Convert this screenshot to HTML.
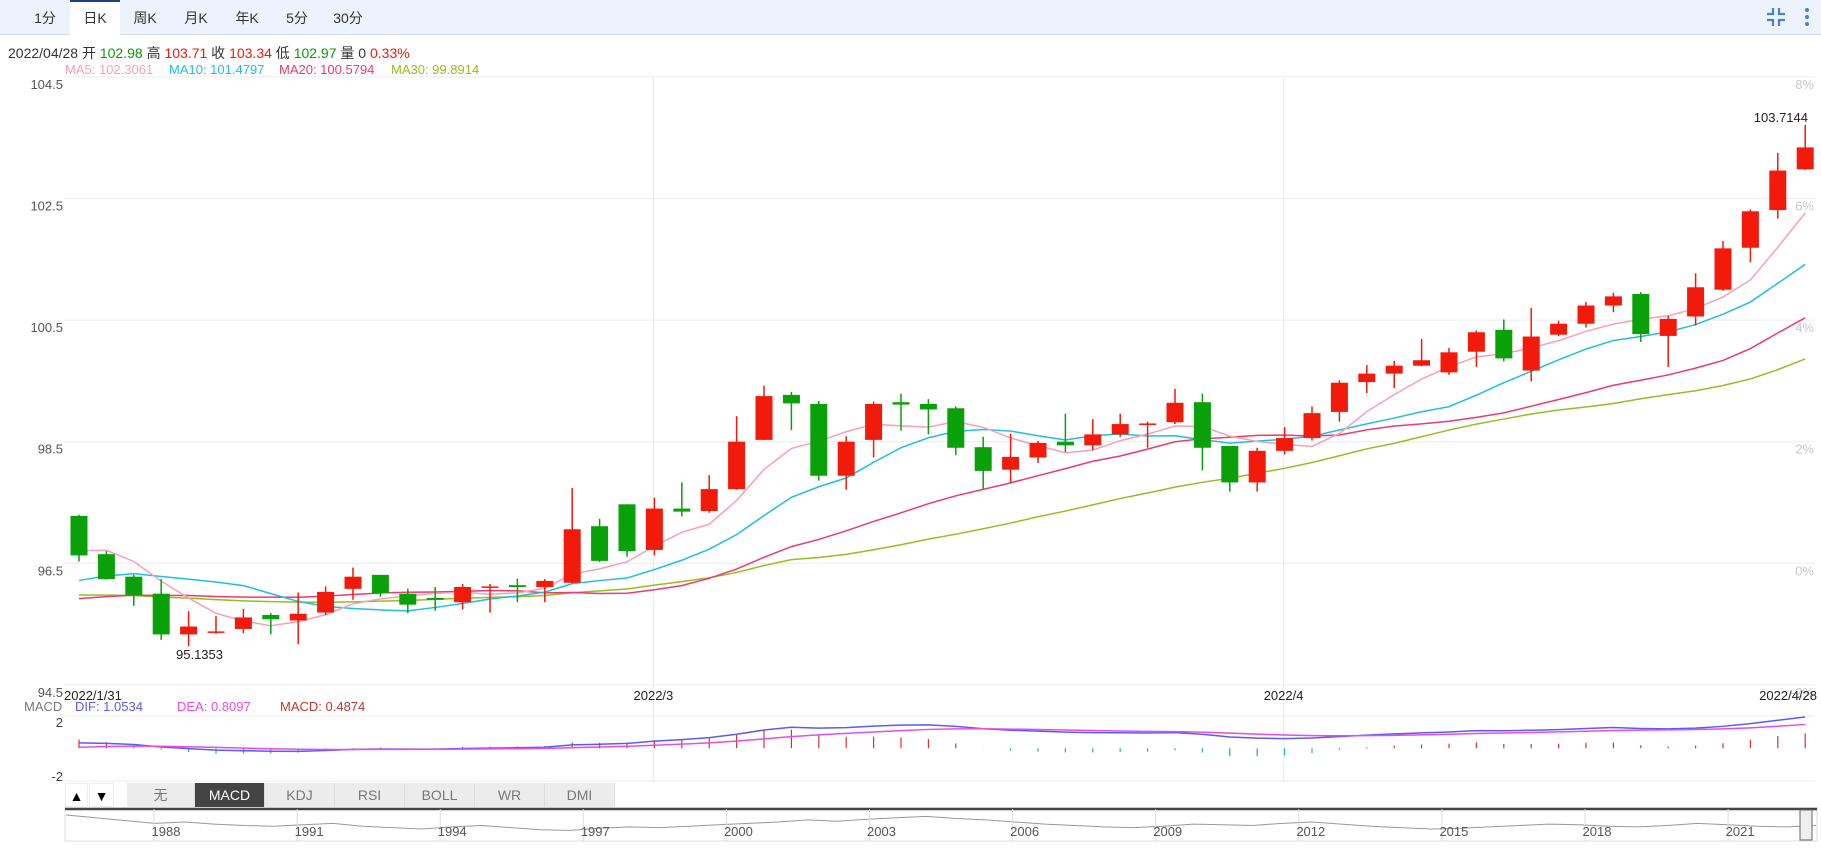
<!DOCTYPE html>
<html><head><meta charset="utf-8">
<style>
body{margin:0;width:1821px;height:855px;overflow:hidden;background:#fff;font-family:"Liberation Sans","Noto Sans CJK SC",sans-serif;position:relative}
#tabs{position:absolute;left:0;top:0;width:1821px;height:35px;background:#edf3fc;border-bottom:1px solid #d5dce8;box-sizing:border-box}
.tab{position:absolute;top:0;height:35px;line-height:37px;font-size:14px;color:#333;text-align:center;width:50px}
.tab.active{background:#fff;border-top:2px solid #1f3b8a;height:36px;box-sizing:border-box;line-height:33px}
#info{position:absolute;left:8px;top:43px;font-size:14px;color:#333;white-space:nowrap}
#ma{position:absolute;top:62px;font-size:13px;white-space:nowrap}
svg{position:absolute;left:0;top:0}
.btn{position:absolute;top:783px;height:24px;line-height:24px;font-size:14px;text-align:center;background:#ececec;color:#777;border-right:1px solid #ddd;box-sizing:border-box}
</style></head><body>
<div id="tabs">
<div class="tab" style="left:20px">1分</div>
<div class="tab active" style="left:70px">日K</div>
<div class="tab" style="left:120px">周K</div>
<div class="tab" style="left:171px">月K</div>
<div class="tab" style="left:222px">年K</div>
<div class="tab" style="left:272px">5分</div>
<div class="tab" style="left:323px">30分</div>
<div style="position:absolute;left:1766px;top:7px;width:20px;height:20px">
<svg width="20" height="20"><path d="M7 1v6H1M13 1v6h6M7 19v-6H1M13 19v-6h6" stroke="#4a7fd4" stroke-width="2.2" fill="none"/></svg></div>
<div style="position:absolute;left:1803px;top:7px;width:8px;height:22px">
<svg width="8" height="22"><circle cx="4" cy="3" r="2" fill="#4a7fd4"/><circle cx="4" cy="10" r="2" fill="#4a7fd4"/><circle cx="4" cy="17" r="2" fill="#4a7fd4"/></svg></div>
</div>
<div id="info">2022/04/28 开 <span style="color:#0a9a0a">102.98</span> 高 <span style="color:#f01a0a">103.71</span> 收 <span style="color:#f01a0a">103.34</span> 低 <span style="color:#0a9a0a">102.97</span> 量 0 <span style="color:#f01a0a">0.33%</span></div>
<div id="ma" style="left:65px;color:#f7a0b8">MA5: 102.3061</div>
<div id="ma" style="left:169px;color:#20bfe0">MA10: 101.4797</div>
<div id="ma" style="left:279px;color:#ee3a6e">MA20: 100.5794</div>
<div id="ma" style="left:391px;color:#96be1e">MA30: 99.8914</div>

<svg id="chart" width="1821" height="855" style="top:0"></svg>

<div class="btn" style="left:65px;width:23px;background:#fff;color:#000;border:1px solid #eee">▲</div>
<div class="btn" style="left:89px;width:25px;background:#fff;color:#000;border:1px solid #eee">▼</div>
<div class="btn" style="left:127px;width:68px">无</div>
<div class="btn" style="left:195px;width:70px;background:#444;color:#fff">MACD</div>
<div class="btn" style="left:265px;width:70px">KDJ</div>
<div class="btn" style="left:335px;width:70px">RSI</div>
<div class="btn" style="left:405px;width:70px">BOLL</div>
<div class="btn" style="left:475px;width:70px">WR</div>
<div class="btn" style="left:545px;width:70px">DMI</div>

<script>
const priorCloses=[96.3,96.2,96.1,96.0,96.1,96.2,96.0,95.9,96.1,96.1,95.6,95.5,95.4,95.5,95.7,95.8,95.6,95.7,95.65,95.75,95.5,95.6,95.8,95.9,95.85,96.2,96.9,96.95,96.85];
const opens=[97.28,96.65,96.28,96.0,95.33,95.36,95.42,95.65,95.56,95.69,96.08,96.31,96.0,95.93,95.86,96.11,96.14,96.11,96.18,97.11,97.47,96.72,97.40,97.36,97.72,98.53,99.27,99.12,97.94,98.53,99.15,99.12,99.05,98.41,98.04,98.24,98.5,98.44,98.62,98.79,98.82,99.15,98.43,97.83,98.35,98.56,98.99,99.48,99.62,99.75,99.64,99.98,100.34,99.67,100.26,100.44,100.74,100.93,100.24,100.56,101.00,101.69,102.31,102.98];
const closes=[96.63,96.24,95.98,95.33,95.46,95.38,95.61,95.58,95.67,96.03,96.28,96.01,95.82,95.90,96.11,96.12,96.11,96.21,97.06,96.54,96.70,97.40,97.35,97.72,98.50,99.25,99.13,97.94,98.50,99.12,99.11,99.03,98.40,98.02,98.25,98.48,98.44,98.62,98.79,98.80,99.14,98.40,97.83,98.35,98.56,98.97,99.47,99.62,99.75,99.84,99.97,100.30,99.87,100.23,100.44,100.74,100.89,100.27,100.52,101.04,101.68,102.29,102.96,103.34];
const highs=[97.30,96.70,96.31,96.24,95.71,95.63,95.75,95.68,96.02,96.12,96.43,96.31,96.08,96.11,96.16,96.16,96.25,96.24,97.74,97.23,97.47,97.58,97.83,97.95,98.92,99.42,99.32,99.17,98.59,99.16,99.29,99.20,99.08,98.58,98.63,98.51,98.96,98.87,98.96,98.83,99.37,99.29,98.43,98.40,98.74,99.08,99.51,99.76,99.83,100.19,100.04,100.33,100.51,100.70,100.49,100.80,100.95,100.96,100.57,101.27,101.80,102.32,103.25,103.71];
const lows=[96.53,96.23,95.80,95.24,95.1353,95.34,95.35,95.33,95.17,95.65,95.90,95.95,95.68,95.72,95.74,95.69,95.86,95.86,96.17,96.52,96.61,96.63,97.27,97.33,97.71,98.53,98.69,97.86,97.71,98.24,98.68,98.62,98.28,97.72,97.83,98.15,98.33,98.36,98.58,98.40,98.79,98.03,97.68,97.68,98.29,98.52,98.83,99.30,99.38,99.74,99.60,99.73,99.82,99.49,100.24,100.38,100.63,100.14,99.73,100.41,100.98,101.45,102.17,102.97];
const priceTicks=[104.5,102.5,100.5,98.5,96.5,94.5];
const pctTicks=["8%","6%","4%","2%","0%","-2%"];
const dateLabels=[["2022/1/31",0,"start"],["2022/3",21,"middle"],["2022/4",44,"middle"],["2022/4/28",63,"end"]];
const navYears=["1988","1991","1994","1997","2000","2003","2006","2009","2012","2015","2018","2021"];
const navValues=[70,66,62,58,60,57,55,54,56,58,54,52,50,53,55,52,49,48,51,53,52,54,56,58,60,63,61,64,66,68,65,63,60,57,55,53,52,54,57,56,55,58,60,57,54,52,50,51,53,55,57,56,54,53,55,58,56,54,53,55];

const svg=document.getElementById('chart');const NS='http://www.w3.org/2000/svg';
function mk(t,a,p){const e=document.createElementNS(NS,t);for(const k in a)e.setAttribute(k,a[k]);(p||svg).appendChild(e);return e;}
const X=i=>79+i*27.4;
const Y=p=>441.7-(p-98.5)*60.8;
const MZ=748.3, MS=30;
const YM=v=>MZ-v*MS;

// grid
priceTicks.forEach((p,k)=>{
 const l=mk('line',{x1:64,x2:1815,y1:Y(p),y2:Y(p),stroke:'#ececec','stroke-width':1});
 
 const t=mk('text',{x:63,y:Y(p)+12,'text-anchor':'end','font-size':13,fill:'#555'});t.textContent=p.toFixed(1);
 
 const t2=mk('text',{x:1814,y:Y(p)+12,'text-anchor':'end','font-size':13,fill:'#c8c8c8'});t2.textContent=pctTicks[k];
 
});
[21,44].forEach(i=>{const l=mk('line',{x1:X(i)-1,x2:X(i)-1,y1:78,y2:781,stroke:'#ececec'});
 });
[716,781].forEach(y=>{const l=mk('line',{x1:64,x2:1815,y1:y,y2:y,stroke:'#ececec'});});
dateLabels.forEach(d=>{const x=d[2]=='start'?64:d[2]=='end'?1817:X(d[1])-1;
 const t=mk('text',{x:x,y:700,'text-anchor':d[2],'font-size':13,fill:'#222'});t.textContent=d[0];
 });

// MAs
const all=priorCloses.concat(closes);const P=priorCloses.length;
function ma(n){const r=[];for(let i=0;i<closes.length;i++){let s=0;for(let k=0;k<n;k++)s+=all[P+i-k];r.push(s/n);}return r;}
[[30,'#96be1e','ma30-line'],[20,'#ee3a6e','ma20-line'],[10,'#20bfe0','ma10-line'],[5,'#f7a0b8','ma5-line']].forEach(m=>{
 const v=ma(m[0]);const pl=mk('polyline',{points:v.map((a,i)=>X(i)+','+Y(a)).join(' '),fill:'none',stroke:m[1],'stroke-width':1.5});
 });

// candles
closes.forEach((c,i)=>{const o=opens[i];const up=c>=o;const col=up?'#f21a0a':'#0aa00a';
 const g=mk('g',{});
 mk('line',{x1:X(i),x2:X(i),y1:Y(highs[i]),y2:Y(lows[i]),stroke:col,'stroke-width':1.5},g);
 const top=Y(Math.max(o,c)),bot=Y(Math.min(o,c));
 mk('rect',{x:X(i)-8.5,y:top,width:17,height:Math.max(1.5,bot-top),fill:col},g);});
let hl=mk('text',{x:1808,y:122,'text-anchor':'end','font-size':13,fill:'#222'});hl.textContent=highs[63].toFixed(4)=='103.7100'?'103.7144':highs[63].toFixed(4);

let ll=mk('text',{x:176,y:659,'font-size':13,fill:'#222'});ll.textContent=lows[4].toFixed(4);


// MACD
function ema(arr,n){const r=[];let e=arr[0];const a=2/(n+1);arr.forEach(v=>{e=a*v+(1-a)*e;r.push(e);});return r;}
const e12=ema(all,12),e26=ema(all,26);const dif=e12.map((v,i)=>v-e26[i]);const dea=ema(dif,9);
const difS=dif.slice(P),deaS=dea.slice(P);
difS.forEach((d,i)=>{const h=2*(d-deaS[i]);const l=mk('line',{x1:X(i),x2:X(i),y1:YM(0),y2:YM(h),stroke:h>=0?'#d9352a':'#1fb39a','stroke-width':1.2});
 });
let p1=mk('polyline',{points:difS.map((v,i)=>X(i)+','+YM(v)).join(' '),fill:'none',stroke:'#5b5bf5','stroke-width':1.5});

let p2=mk('polyline',{points:deaS.map((v,i)=>X(i)+','+YM(v)).join(' '),fill:'none',stroke:'#e84ce8','stroke-width':1.5});

[['MACD',24,'#777','macd-title'],['DIF: 1.0534',75,'#5b5bf5','dif-legend'],['DEA: 0.8097',177,'#e84ce8','dea-legend'],['MACD: 0.4874',280,'#c0392b','macd-legend']].forEach(a=>{
 const t=mk('text',{x:a[1],y:711,'font-size':13,fill:a[2]});t.textContent=a[0];});
[['2',727],['-2',781]].forEach(a=>{const t=mk('text',{x:63,y:a[1],'text-anchor':'end','font-size':13,fill:'#444'});t.textContent=a[0];
 });

// navigator
let nb=mk('rect',{x:65,y:808,width:1752,height:33,fill:'#fff',stroke:'#ddd'});
mk('line',{x1:65,x2:1817,y1:809,y2:809,stroke:'#444','stroke-width':2.5});
const nx=i=>66+i*(1750/(navValues.length-1));
let np=mk('polyline',{points:navValues.map((v,i)=>nx(i)+','+(808+(80-v)*0.7)).join(' '),fill:'none',stroke:'#999','stroke-width':1});

navYears.forEach((y,k)=>{const x=166+k*143.1;mk('line',{x1:x-12,x2:x-12,y1:809,y2:841,stroke:'#ddd'});
 const t=mk('text',{x:x,y:836,'text-anchor':'middle','font-size':13,fill:'#555'});t.textContent=y;
 });
let hd=mk('rect',{x:1800,y:810,width:12,height:30,fill:'#eee',stroke:'#666'});
</script>
</body></html>
